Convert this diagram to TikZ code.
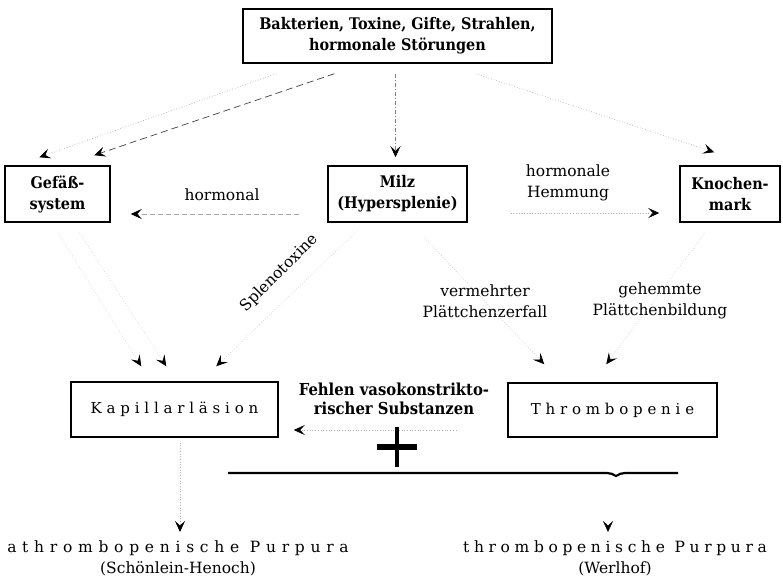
\documentclass[tikz,border=0pt]{standalone}
\usepackage{fontspec}
\setmainfont{DejaVu Serif}
\newfontfamily\schmalfett{DejaVu Serif Condensed}
\newfontfamily\gesperrt{DejaVu Serif}[LetterSpace=32]
\newfontfamily\weitgesperrt{DejaVu Serif}[LetterSpace=37]
\newfontfamily\mittelgesperrt{DejaVu Serif}[LetterSpace=30]
\usepackage{tikz}
\usetikzlibrary{arrows.meta,calc,positioning}
\tikzset{
	kasten/.style={draw,line width=1.5pt,align=center,inner sep=0pt,minimum height=56pt,font=\fontsize{16}{21}\schmalfett\bfseries},
	spitze/.style={-{Stealth[length=11pt,width=10pt,inset=4.5pt,black]}},
	blass/.style={gray!60,dotted,line width=0.7pt},
	beschr/.style={align=center,inner sep=0pt,font=\fontsize{15.5}{21}\selectfont}
}
\begin{document}
\begin{tikzpicture}[x=1pt,y=-1pt]
	\useasboundingbox (0,0) rectangle (783,580);
	\node[kasten,minimum width=309pt,minimum height=54pt] (ursachen) at (397.5,36) {Bakterien, Toxine, Gifte, Strahlen,\\hormonale Störungen};
	\node[kasten,minimum width=105pt] (gefaess) at (57.5,194) {Gefäß-\\system};
	\node[kasten,minimum width=139pt] (milz) at (397.5,194) {Milz\\(Hypersplenie)};
	\node[kasten,minimum width=100pt] (knochen) at (730,194) {Knochen-\\mark};
	\node[kasten,minimum width=207pt,minimum height=55pt,font=\fontsize{15}{21}\gesperrt] (kapillar) at (174.5,409.5) {Kapillarläsion};
	\node[kasten,minimum width=209pt,minimum height=54pt,font=\fontsize{15}{21}\gesperrt] (thrombo) at (612.5,410) {Thrombopenie};
	\node[beschr] (hormonal) at (222,195) {hormonal};
	\node[beschr] (hemmung) at (568,183) {hormonale\\Hemmung};
	\node[beschr,rotate=45] (spleno) at (279,273) {Splenotoxine};
	\node[beschr] (zerfall) at (485,301) {vermehrter\\Plättchenzerfall};
	\node[beschr] (bildung) at (660,301) {gehemmte\\Plättchenbildung};
	\node[beschr,font=\fontsize{16.5}{19}\schmalfett\bfseries] (fehlen) at (394,399) {Fehlen vasokonstrikto-\\rischer Substanzen};
	\node[beschr,anchor=north] (athrombo) at (178,541) {{\weitgesperrt athrombopenische Purpura}\\(Schönlein-Henoch)};
	\node[beschr,anchor=north] (werlhof) at (615,541) {{\mittelgesperrt thrombopenische Purpura}\\(Werlhof)};
	\draw[blass,spitze] ($(ursachen.south west)+(34,10)$) -- ($(gefaess.north west)+(35,-8)$);
	\draw[black!75,dash pattern=on 7pt off 4pt,line width=0.7pt,spitze] ($(ursachen.south west)+(92,10)$) -- ($(gefaess.north west)+(90,-10)$);
	\draw[gray,dash pattern=on 4pt off 2pt on 1pt off 2pt,line width=0.7pt,spitze] ($(ursachen.south)+(-2,10)$) -- ($(milz.north)+(-2,-8)$);
	\draw[blass,spitze] ($(ursachen.south east)+(-77,10)$) -- ($(knochen.north west)+(35,-13)$);
	\draw[gray!70,dash pattern=on 5pt off 3pt,line width=0.6pt,spitze] ($(milz.west)+(-28,20)$) -- ($(gefaess.east)+(20,20)$);
	\draw[blass,spitze] ($(milz.east)+(43,19)$) -- ($(knochen.west)+(-20,19)$);
	\draw[blass,gray!35,spitze] ($(gefaess.south)+(0.5,10)$) -- ($(kapillar.north west)+(71,-15)$);
	\draw[blass,gray!35,spitze] ($(gefaess.south)+(22,10)$) -- ($(kapillar.north west)+(96,-15)$);
	\draw[blass,gray!35,spitze] ($(milz.south west)+(30,8)$) -- ($(kapillar.north west)+(146,-15)$);
	\draw[blass,gray!45,spitze] ($(milz.south)+(27,15)$) -- ($(thrombo.north west)+(37,-18)$);
	\draw[blass,gray!35,spitze] ($(knochen.south)+(-25,10)$) -- ($(thrombo.north west)+(99,-18)$);
	\draw[blass,spitze] ($(thrombo.west)+(-51,20)$) -- ($(kapillar.east)+(15,20.5)$);
	\draw[blass,spitze] ($(kapillar.south)+(5.5,5)$) -- ($(athrombo.north)+(2,-9)$);
	% Klammer und Kreuz
	\coordinate (kreuz) at (397,447);
	\coordinate (klammerL) at (228,473);
	\coordinate (klammerM) at (616,476);
	\coordinate (klammerR) at (678,473);
	\draw[line width=6.5pt] ($(kreuz)+(-20,0)$) -- ($(kreuz)+(20,0)$);
	\draw[line width=4pt] ($(kreuz)+(0,-20)$) -- ($(kreuz)+(0,20)$);
	\draw[line width=2.2pt] (klammerL) -- ($(klammerM)+(-9,-3)$) to[out=0,in=150] (klammerM) to[out=30,in=180] ($(klammerM)+(9,-3)$) -- (klammerR);
	\draw[draw=white,spitze] ($(werlhof.north)+(-7,-21)$) -- ($(werlhof.north)+(-7,-9)$);
\end{tikzpicture}
\end{document}
